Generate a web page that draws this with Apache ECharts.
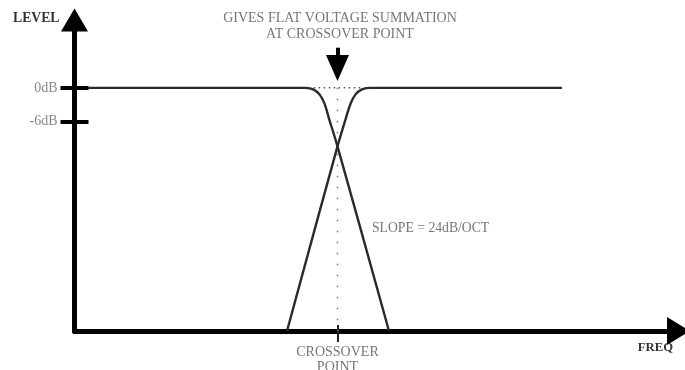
<!DOCTYPE html>
<html>
<head>
<meta charset="utf-8">
<title>Crossover</title>
<script src="https://cdn.jsdelivr.net/npm/echarts@6/dist/echarts.min.js"></script>
<style>
  html, body { margin: 0; padding: 0; background: #fff; }
  #main { width: 685px; height: 370px; }
</style>
</head>
<body>
<div id="main"></div>
<script>
  // x = frequency (arbitrary units 0..100), y = level in dB
  var crossoverX = 43.54;
  var levelTicks = [0, -6];
  var lowPass = [[2.2, 0], [38.3, 0], [39.6, -0.3], [40.6, -1.2], [41.4, -2.8], [42.1, -5.3], [43.54, -10.35], [52.07, -43]];
  var highPass = [[35.18, -43], [43.54, -10.35], [44.95, -5.3], [45.7, -2.8], [46.5, -1.2], [47.5, -0.3], [48.8, 0], [80.7, 0]];
  var flatSum = [[39.6, 0], [47.5, 0]];
  var crossLine = [[crossoverX, 0], [crossoverX, -43]];
  var arrowFrom = [crossoverX, 7.1];
  var arrowTo = [crossoverX, 3.5];

  var serif = "'Liberation Serif', 'DejaVu Serif', serif";
  var textGray = '#777';

  var myChart = echarts.init(document.getElementById('main'));

  var option = {
    animation: false,
    grid: { left: 74.5, right: 6.5, top: 20, bottom: 39, outerBoundsMode: 'none' },
    xAxis: [{
      type: 'value', position: 'bottom', min: 0, max: 100,
      name: 'FREQ', nameLocation: 'end', nameGap: -5.5,
      nameTextStyle: { fontFamily: serif, fontWeight: 'bold', fontSize: 12.7, color: '#333', align: 'right', verticalAlign: 'top', padding: [10, 0, 0, 0] },
      axisLine: { show: true, onZero: false, symbol: ['none', 'triangle'], symbolSize: [28, 23], lineStyle: { color: '#000', width: 5 } },
      axisTick: { show: true, customValues: [crossoverX], length: 11, lineStyle: { color: '#222', width: 2 } },
      axisLabel: {
        show: true, customValues: [crossoverX], margin: 14,
        formatter: function () { return 'CROSSOVER\nPOINT'; },
        fontFamily: serif, fontSize: 14, lineHeight: 15, color: textGray, verticalAlign: 'top'
      },
      splitLine: { show: false }
    }, {
      // second axis only for the inner half of the tick
      type: 'value', position: 'bottom', offset: 0, min: 0, max: 100,
      axisLine: { show: false, onZero: false },
      axisTick: { show: true, inside: true, customValues: [crossoverX], length: 6, lineStyle: { color: '#222', width: 2 } },
      axisLabel: { show: false },
      splitLine: { show: false }
    }],
    yAxis: [{
      type: 'value', position: 'left', min: -43, max: 12,
      name: 'LEVEL', nameLocation: 'end', nameGap: 2,
      nameTextStyle: { fontFamily: serif, fontWeight: 'bold', fontSize: 13.7, color: '#333', align: 'right', verticalAlign: 'middle', padding: [0, 15, 0, 0] },
      axisLine: { show: true, onZero: false, symbol: ['none', 'triangle'], symbolSize: [27, 23], lineStyle: { color: '#000', width: 5 } },
      axisTick: { show: true, customValues: levelTicks, length: 14, lineStyle: { color: '#000', width: 4 } },
      axisLabel: {
        show: true, customValues: levelTicks, margin: 17,
        formatter: function (v) { return v + 'dB'; },
        fontFamily: serif, fontSize: 14, color: '#888'
      },
      splitLine: { show: false }
    }, {
      type: 'value', position: 'left', offset: 0, min: -43, max: 12,
      axisLine: { show: false, onZero: false },
      axisTick: { show: true, inside: true, customValues: levelTicks, length: 14, lineStyle: { color: '#000', width: 4 } },
      axisLabel: { show: false },
      splitLine: { show: false }
    }],
    series: [{
      name: 'crossover', type: 'line', data: crossLine, showSymbol: false, silent: true,
      lineStyle: { color: '#777', width: 1.5, type: [1.5, 9.5] }
    }, {
      name: 'sum', type: 'line', data: flatSum, showSymbol: false, silent: true,
      lineStyle: { color: '#555', width: 1.5, type: [1.5, 3.5] }
    }, {
      name: 'low', type: 'line', data: lowPass, showSymbol: false, smooth: 0.35, silent: true,
      lineStyle: { color: '#2a2a2a', width: 2.4 },
      markLine: {
        silent: true, symbol: ['none', 'triangle'], symbolSize: [23, 26],
        label: { show: false },
        lineStyle: { color: '#000', width: 4, type: 'solid' },
        data: [[{ coord: arrowFrom }, { coord: arrowTo }]]
      }
    }, {
      name: 'high', type: 'line', data: highPass, showSymbol: false, smooth: 0.35, silent: true,
      lineStyle: { color: '#2a2a2a', width: 2.4 }
    }],
    graphic: [{
      type: 'text', x: 340, y: 10, silent: true,
      style: { text: 'GIVES FLAT VOLTAGE SUMMATION\nAT CROSSOVER POINT', align: 'center', verticalAlign: 'top', lineHeight: 16, font: '14px ' + serif, fill: textGray }
    }, {
      type: 'text', x: 372, y: 228, silent: true,
      style: { text: 'SLOPE = 24dB/OCT', align: 'left', verticalAlign: 'middle', font: '13.7px ' + serif, fill: textGray }
    }]
  };

  myChart.setOption(option);
</script>
</body>
</html>
